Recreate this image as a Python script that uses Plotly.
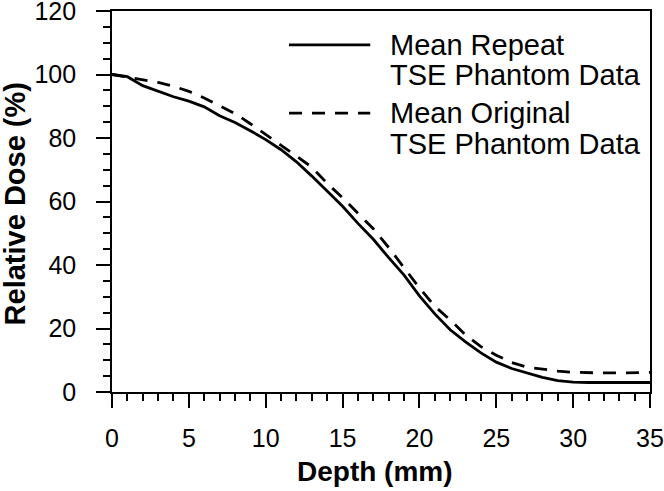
import plotly.graph_objects as go

depth = list(range(0, 36))
repeat_dose = [100, 99.3, 96.5, 94.7, 93.0, 91.6, 89.8, 87.0, 84.9, 82.3,
               79.5, 76.3, 72.5, 68.0, 63.2, 58.5, 53.1, 48.1, 42.3, 36.8,
               30.3, 24.6, 19.6, 15.8, 12.3, 9.4, 7.4, 5.9, 4.6, 3.6,
               3.1, 3.0, 3.0, 3.1, 2.9, 3.0]
original_dose = [100, 99.2, 98.5, 97.5, 96.3, 94.7, 92.6, 90.2, 87.7, 84.5,
                 81.2, 77.7, 74.3, 70.8, 65.7, 61.2, 56.3, 51.4, 45.5, 39.3,
                 32.8, 27.0, 22.7, 18.0, 14.3, 11.6, 9.3, 7.8, 7.1, 6.6,
                 6.2, 6.0, 6.0, 6.0, 6.1, 6.2]
series_names = ["Mean Repeat<br>TSE Phantom Data", "Mean Original<br>TSE Phantom Data"]
x_ticks = [0, 5, 10, 15, 20, 25, 30, 35]
y_ticks = [0, 20, 40, 60, 80, 100, 120]
x_title = "Depth (mm)"
y_title = "Relative Dose (%)"

FONT = "Liberation Sans, Arial, sans-serif"
DASH = "13px,10px"
LW = 2.8

fig = go.Figure()
fig.add_trace(go.Scatter(x=depth, y=repeat_dose, mode="lines", name=series_names[0],
                         line=dict(color="black", width=LW), showlegend=False))
fig.add_trace(go.Scatter(x=depth, y=original_dose, mode="lines", name=series_names[1],
                         line=dict(color="black", width=LW, dash=DASH), showlegend=False))

# custom legend (long line samples, tight two-line labels)
legend_rows = [(0.911, 0.832, "solid"), (0.732, 0.651, DASH)]
for i, (y1, y2, dash) in enumerate(legend_rows):
    fig.add_shape(type="line", xref="paper", yref="paper", x0=0.329, x1=0.480, y0=y1, y1=y1,
                  line=dict(color="black", width=LW, dash=dash))
    lines = series_names[i].split("<br>")
    for yy, txt in zip((y1, y2), lines):
        fig.add_annotation(xref="paper", yref="paper", x=0.513, y=yy, xanchor="left",
                           yanchor="middle", text=txt, showarrow=False,
                           font=dict(family=FONT, size=29, color="black"))

# axis titles
fig.add_annotation(xref="paper", yref="paper", x=0.489, y=-0.2546, xanchor="center", yanchor="bottom",
                   text="<b>%s</b>" % x_title, showarrow=False,
                   font=dict(family=FONT, size=28, color="black"))
fig.add_annotation(xref="paper", yref="paper", x=-0.181, y=0.494, xanchor="center", yanchor="middle",
                   text="<b>%s</b>" % y_title, showarrow=False, textangle=-90,
                   font=dict(family=FONT, size=29, color="black"))

axis_common = dict(showline=True, linecolor="black", linewidth=1.6, mirror=True,
                   ticks="outside", ticklen=14, tickwidth=1.6, tickcolor="black",
                   showgrid=False, zeroline=False, automargin=False,
                   ticklabeloverflow="allow",
                   tickfont=dict(family=FONT, size=25, color="black"))

fig.update_xaxes(range=[0, 35], tickvals=x_ticks, ticklabelstandoff=9,
                 minor=dict(dtick=1, ticklen=7, ticks="outside", tickwidth=1.6, tickcolor="black"),
                 **axis_common)
fig.update_yaxes(range=[0, 120], tickvals=y_ticks, ticklabelstandoff=15,
                 minor=dict(dtick=5, ticklen=7, ticks="outside", tickwidth=1.6, tickcolor="black"),
                 **axis_common)

fig.update_layout(width=664, height=491, margin=dict(l=112, r=14, t=11, b=99),
                  plot_bgcolor="white", paper_bgcolor="white",
                  font=dict(family=FONT, color="black"))

fig.write_html("out.html", config={"displayModeBar": False},
               post_script="document.body.style.margin='0';document.body.style.overflow='hidden';")
